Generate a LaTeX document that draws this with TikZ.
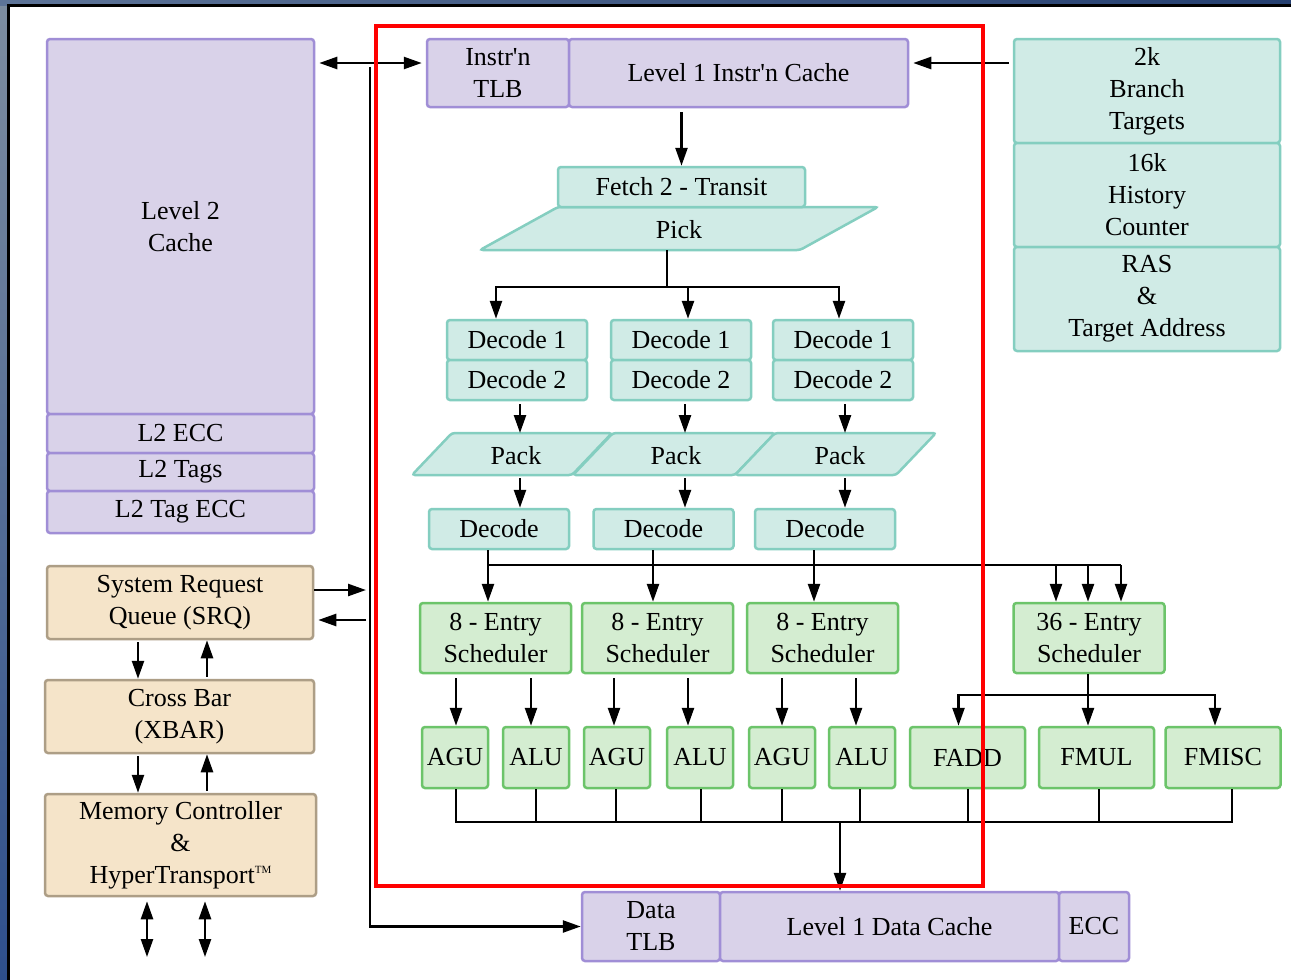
\documentclass[tikz,border=0pt]{standalone}
\usepackage{fontspec}
\setmainfont{Liberation Serif}
\usetikzlibrary{arrows.meta}
\definecolor{lavf}{HTML}{D9D2E9}
\definecolor{lavd}{HTML}{A08ED6}
\definecolor{teaf}{HTML}{D0EBE6}
\definecolor{tead}{HTML}{84CEC0}
\definecolor{grnf}{HTML}{D4EDD1}
\definecolor{grnd}{HTML}{6CC46A}
\definecolor{tanf}{HTML}{F5E4C9}
\definecolor{tand}{HTML}{AD9E86}
\definecolor{frg}{HTML}{7D8DA0}
\definecolor{frb}{HTML}{2E4F8C}
\begin{document}
\begin{tikzpicture}[x=1pt,y=-1pt,
  every node/.style={font=\fontsize{26}{32}\selectfont, align=center, inner sep=0pt},
  base/.style={line width=2.5pt, rounded corners=3pt},
  lav/.style={base, fill=lavf, draw=lavd},
  tea/.style={base, fill=teaf, draw=tead},
  grn/.style={base, fill=grnf, draw=grnd},
  tan/.style={base, fill=tanf, draw=tand},
  wh/.style 2 args={minimum width=#1pt, minimum height=#2pt},
  ln/.style={line width=2.5pt, draw=black},
  arr/.style={ln, -{Triangle[length=18pt,width=12pt]}},
  dbl/.style={ln, {Triangle[length=18pt,width=12pt]}-{Triangle[length=18pt,width=12pt]}},
]
\useasboundingbox (0,0) rectangle (1291,980);
% frame
\fill[frb] (0,0) rectangle (1291,980);
\shade[top color=frg, bottom color=frb] (0,0) rectangle (8,980);
\shade[left color=frg!60!frb, right color=frb!80!black] (0,0) rectangle (1291,5);
\fill[white] (8,5) rectangle (1291,980);
\draw[line width=2.5pt] (8.5,980) -- (8.5,5.5) -- (1291,5.5);

% Level 2 stack
\node[lav, wh={267}{375}] (l2) at (180.5,226.5) {Level 2\\Cache};
\node[lav, wh={267}{39}] (l2ecc) at (180.5,433.5) {L2 ECC};
\node[lav, wh={267}{38}] (l2tag) at (180.5,472) {L2 Tags};
\node[lav, wh={267}{42}] (l2tagecc) at (180.5,512) {L2 Tag ECC};

% L1 instruction
\node[lav, wh={142}{68}] (itlb) at (498,73) {Instr\textquotesingle n\\TLB};
\node[lav, wh={339}{68}] (l1i) at (738.5,73) {Level 1 Instr\textquotesingle n Cache};

% branch prediction stack
\node[tea, wh={266}{104}] (brt) at (1147,91) {2k\\Branch\\Targets};
\node[tea, wh={266}{104}] (hist) at (1147,195) {16k\\History\\Counter};
\node[tea, wh={266}{104}] (ras) at (1147,299) {RAS\\\&\\Target Address};

% fetch / pick
\filldraw[tea] (558,207) -- (878,207) -- (800,250) -- (480,250) -- cycle;
\node (pick) at (679,230) {Pick};
\node[tea, wh={247}{40}] (fetch) at (681.5,187) {Fetch 2 - Transit};

% decode 1/2
\node[tea, wh={140}{40}] (d1a) at (517,340) {Decode 1};
\node[tea, wh={140}{40}] (d1b) at (517,380) {Decode 2};
\node[tea, wh={140}{40}] (d2a) at (681,340) {Decode 1};
\node[tea, wh={140}{40}] (d2b) at (681,380) {Decode 2};
\node[tea, wh={140}{40}] (d3a) at (843,340) {Decode 1};
\node[tea, wh={140}{40}] (d3b) at (843,380) {Decode 2};

% pack
\filldraw[tea] (452,433) -- (612,433) -- (572,475) -- (412,475) -- cycle;
\node (pk1) at (516,456) {Pack};
\filldraw[tea] (613,433) -- (775,433) -- (735,475) -- (573,475) -- cycle;
\node (pk2) at (676,456) {Pack};
\filldraw[tea] (775,433) -- (936,433) -- (896,475) -- (735,475) -- cycle;
\node (pk3) at (840,456) {Pack};

% decode
\node[tea, wh={140}{40}] (dc1) at (499,529) {Decode};
\node[tea, wh={140}{40}] (dc2) at (663.5,529) {Decode};
\node[tea, wh={140}{40}] (dc3) at (825,529) {Decode};

% schedulers
\node[grn, wh={151}{70}] (s1) at (495.5,638) {8 - Entry\\Scheduler};
\node[grn, wh={151}{70}] (s2) at (657.5,638) {8 - Entry\\Scheduler};
\node[grn, wh={151}{70}] (s3) at (822.5,638) {8 - Entry\\Scheduler};
\node[grn, wh={151}{70}] (s36) at (1089,638) {36 - Entry\\Scheduler};

% execution units
\node[grn, wh={66}{61}] (agu1) at (455,757.5) {AGU};
\node[grn, wh={66}{61}] (alu1) at (536,757.5) {ALU};
\node[grn, wh={66}{61}] (agu2) at (617,757.5) {AGU};
\node[grn, wh={66}{61}] (alu2) at (700,757.5) {ALU};
\node[grn, wh={66}{61}] (agu3) at (782,757.5) {AGU};
\node[grn, wh={66}{61}] (alu3) at (862,757.5) {ALU};
\node[grn, wh={115}{61}] (fadd) at (967.5,757.5) {FADD};
\node[grn, wh={115}{61}] (fmul) at (1096.5,757.5) {FMUL};
\node[grn, wh={115}{61}] (fmisc) at (1223,757.5) {FMISC};

% data cache
\node[lav, wh={138}{69}] (dtlb) at (651,926.5) {Data\\TLB};
\node[lav, wh={339}{69}] (l1d) at (889.5,926.5) {Level 1 Data Cache};
\node[lav, wh={70}{69}] (ecc) at (1094,926.5) {ECC};

% left column
\node[tan, wh={266}{73}] (srq) at (180,602.5) {System Request\\Queue (SRQ)};
\node[tan, wh={269}{73}] (xbar) at (179.5,716.5) {Cross Bar\\(XBAR)};
\node[tan, wh={271}{102}] (mc) at (180.5,845) {Memory Controller\\\&\\HyperTransport\raisebox{10pt}{\fontsize{11}{11}\selectfont TM}};

% ---- connectors ----
\draw[arr, shorten <=4pt] (l1i.south -| fetch.north) -- (fetch.north);

\coordinate (pickb) at (667,250);
\coordinate (bus1) at (667,287);
\draw[ln] (pickb) -- (bus1);
\coordinate (t1) at ([xshift=-21pt]d1a.north);
\coordinate (t2) at ([xshift=7pt]d2a.north);
\coordinate (t3) at ([xshift=-4pt]d3a.north);
\draw[arr] (bus1) -| (t1);
\draw[arr] (bus1) -| (t2);
\draw[arr] (bus1) -| (t3);

\coordinate (p1t) at (520,433); \coordinate (p1b) at (520,475);
\coordinate (p2t) at (685,433); \coordinate (p2b) at (685,475);
\coordinate (p3t) at (845,433); \coordinate (p3b) at (845,475);
\draw[arr, shorten <=3pt] (d1b.south -| p1t) -- (p1t);
\draw[arr, shorten <=3pt] (d2b.south -| p2t) -- (p2t);
\draw[arr, shorten <=3pt] (d3b.south -| p3t) -- (p3t);
\draw[arr, shorten <=3pt] (p1b) -- (p1b |- dc1.north);
\draw[arr, shorten <=3pt] (p2b) -- (p2b |- dc2.north);
\draw[arr, shorten <=3pt] (p3b) -- (p3b |- dc3.north);

\coordinate (v1) at ([xshift=-11pt]dc1.south);
\coordinate (v2) at ([xshift=-10.5pt]dc2.south);
\coordinate (v3) at ([xshift=-11pt]dc3.south);
\coordinate (hb) at (1121,565);
\draw[ln] (v1 |- hb) -- (hb);
\draw[arr] (v1) -- (v1 |- s1.north);
\draw[arr] (v2) -- (v2 |- s2.north);
\draw[arr] (v3) -- (v3 |- s3.north);
\coordinate (w1) at ([xshift=-33pt]s36.north);
\coordinate (w2) at ([xshift=-1pt]s36.north);
\coordinate (w3) at ([xshift=32pt]s36.north);
\draw[arr] (w1 |- hb) -- (w1);
\draw[arr] (w2 |- hb) -- (w2);
\draw[arr] (w3 |- hb) -- (w3);

\coordinate (u1) at ([xshift=1pt]agu1.north);
\coordinate (u2) at ([xshift=-5pt]alu1.north);
\coordinate (u3) at ([xshift=-3pt]agu2.north);
\coordinate (u4) at ([xshift=-12pt]alu2.north);
\coordinate (u5) at (agu3.north);
\coordinate (u6) at ([xshift=-6pt]alu3.north);
\draw[arr, shorten <=4pt] (s1.south -| u1) -- (u1);
\draw[arr, shorten <=4pt] (s1.south -| u2) -- (u2);
\draw[arr, shorten <=4pt] (s2.south -| u3) -- (u3);
\draw[arr, shorten <=4pt] (s2.south -| u4) -- (u4);
\draw[arr, shorten <=4pt] (s3.south -| u5) -- (u5);
\draw[arr, shorten <=4pt] (s3.south -| u6) -- (u6);

\coordinate (fb) at (1088,695);
\draw[ln] (s36.south -| fb) -- (fb);
\coordinate (f1) at ([xshift=-9pt]fadd.north);
\coordinate (f2) at ([xshift=-8.5pt]fmul.north);
\coordinate (f3) at ([xshift=-8pt]fmisc.north);
\draw[arr] (fb) -| (f1);
\draw[arr] (fb) -- (f2);
\draw[arr] (fb) -| (f3);

\coordinate (cb) at (840,822);
\foreach \n/\dx in {agu1/1, alu1/0, agu2/-1, alu2/1, agu3/0, alu3/-2, fadd/0.5, fmul/2.5, fmisc/9}
  \draw[ln] ([xshift=\dx pt]\n.south) |- (cb);
\draw[arr] (cb) -- (cb |- l1d.north);

% left bus
\coordinate (lbt) at (370,67);
\draw[arr] (lbt) |- (dtlb.west);
\coordinate (ia) at ([yshift=10pt]itlb.west);
\draw[dbl, shorten <=4pt, shorten >=4pt] (ia -| l2.east) -- (ia);
\coordinate (sa) at ([yshift=12.5pt]srq.east);
\coordinate (sb) at ([yshift=-17.5pt]srq.east);
\draw[arr, shorten >=4pt] (sa) -- (sa -| lbt);
\draw[arr, shorten >=4pt, shorten <=4pt] (sb -| lbt) -- (sb);

\coordinate (ba) at ([yshift=28pt]brt.west);
\draw[arr, shorten <=4pt, shorten >=4pt] (ba) -- (ba -| l1i.east);

\coordinate (q1) at ([xshift=-42pt]srq.south);
\coordinate (q2) at ([xshift=27.5pt]xbar.north);
\coordinate (q3) at ([xshift=-41.5pt]xbar.south);
\coordinate (q4) at ([xshift=26.5pt]mc.north);
\draw[arr, shorten <=2pt] (q1) -- (q1 |- xbar.north);
\draw[arr, shorten <=2pt] (q2) -- (q2 |- srq.south);
\draw[arr, shorten <=2pt] (q3) -- (q3 |- mc.north);
\draw[arr, shorten <=2pt] (q4) -- (q4 |- xbar.south);

\coordinate (e1) at (147,957);
\coordinate (e2) at (205,957);
\draw[dbl, shorten <=4pt] (e1 |- mc.south) -- (e1);
\draw[dbl, shorten <=4pt] (e2 |- mc.south) -- (e2);

% red outline
\draw[red, line width=4pt] (376,26) rectangle (983,886);
\end{tikzpicture}
\end{document}
